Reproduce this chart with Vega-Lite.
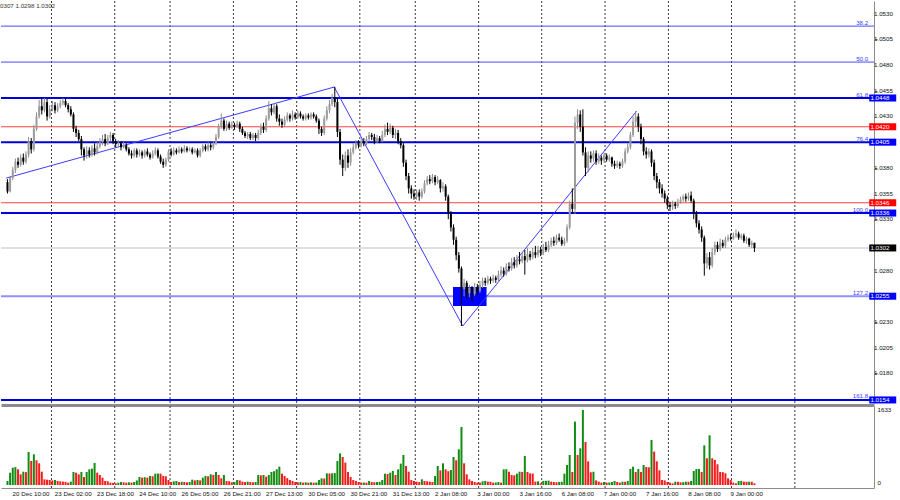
{
"$schema":"https://vega.github.io/schema/vega-lite/v6.json",
"padding":0,
"background":"#ffffff",
"config":{"view":{"stroke":null},"font":"Liberation Sans","axis":{"labelFont":"Liberation Sans","labelOverlap":false,"labelFlush":false}},
"datasets":{
"bars":[
{"i":0,"o":1.0366,"h":1.0369,"l":1.0355,"c":1.0357,"v":87},
{"i":1,"o":1.0357,"h":1.0372,"l":1.0356,"c":1.0370,"v":268},
{"i":2,"o":1.0370,"h":1.0381,"l":1.0368,"c":1.0378,"v":377},
{"i":3,"o":1.0378,"h":1.0389,"l":1.0375,"c":1.0386,"v":390},
{"i":4,"o":1.0386,"h":1.0390,"l":1.0380,"c":1.0383,"v":341},
{"i":5,"o":1.0383,"h":1.0393,"l":1.0381,"c":1.0390,"v":232},
{"i":6,"o":1.0390,"h":1.0394,"l":1.0383,"c":1.0386,"v":290},
{"i":7,"o":1.0386,"h":1.0396,"l":1.0384,"c":1.0393,"v":280},
{"i":8,"o":1.0393,"h":1.0410,"l":1.0390,"c":1.0406,"v":719},
{"i":9,"o":1.0406,"h":1.0409,"l":1.0394,"c":1.0398,"v":523},
{"i":10,"o":1.0398,"h":1.0422,"l":1.0396,"c":1.0418,"v":668},
{"i":11,"o":1.0418,"h":1.0434,"l":1.0416,"c":1.0430,"v":538},
{"i":12,"o":1.0430,"h":1.0446,"l":1.0428,"c":1.0440,"v":472},
{"i":13,"o":1.0440,"h":1.0447,"l":1.0432,"c":1.0436,"v":290},
{"i":14,"o":1.0436,"h":1.0448,"l":1.0434,"c":1.0444,"v":123},
{"i":15,"o":1.0444,"h":1.0447,"l":1.0426,"c":1.0430,"v":116},
{"i":16,"o":1.0430,"h":1.0441,"l":1.0428,"c":1.0437,"v":109},
{"i":17,"o":1.0437,"h":1.0445,"l":1.0435,"c":1.0441,"v":100},
{"i":18,"o":1.0441,"h":1.0444,"l":1.0433,"c":1.0436,"v":109},
{"i":19,"o":1.0436,"h":1.0443,"l":1.0434,"c":1.0440,"v":87},
{"i":20,"o":1.0440,"h":1.0446,"l":1.0438,"c":1.0443,"v":80},
{"i":21,"o":1.0443,"h":1.0448,"l":1.0441,"c":1.0445,"v":73},
{"i":22,"o":1.0445,"h":1.0447,"l":1.0439,"c":1.0441,"v":70},
{"i":23,"o":1.0441,"h":1.0443,"l":1.0434,"c":1.0437,"v":51},
{"i":24,"o":1.0437,"h":1.0440,"l":1.0430,"c":1.0432,"v":73},
{"i":25,"o":1.0432,"h":1.0434,"l":1.0415,"c":1.0418,"v":283},
{"i":26,"o":1.0418,"h":1.0421,"l":1.0410,"c":1.0414,"v":268},
{"i":27,"o":1.0414,"h":1.0417,"l":1.0406,"c":1.0408,"v":232},
{"i":28,"o":1.0408,"h":1.0411,"l":1.0392,"c":1.0398,"v":283},
{"i":29,"o":1.0398,"h":1.0400,"l":1.0387,"c":1.0392,"v":174},
{"i":30,"o":1.0392,"h":1.0401,"l":1.0389,"c":1.0397,"v":283},
{"i":31,"o":1.0397,"h":1.0400,"l":1.0390,"c":1.0393,"v":341},
{"i":32,"o":1.0393,"h":1.0402,"l":1.0391,"c":1.0399,"v":356},
{"i":33,"o":1.0399,"h":1.0404,"l":1.0392,"c":1.0395,"v":479},
{"i":34,"o":1.0395,"h":1.0405,"l":1.0393,"c":1.0401,"v":268},
{"i":35,"o":1.0401,"h":1.0409,"l":1.0399,"c":1.0405,"v":218},
{"i":36,"o":1.0405,"h":1.0412,"l":1.0402,"c":1.0408,"v":160},
{"i":37,"o":1.0408,"h":1.0413,"l":1.0401,"c":1.0404,"v":87},
{"i":38,"o":1.0404,"h":1.0412,"l":1.0402,"c":1.0409,"v":80},
{"i":39,"o":1.0409,"h":1.0415,"l":1.0406,"c":1.0412,"v":51},
{"i":40,"o":1.0412,"h":1.0414,"l":1.0403,"c":1.0406,"v":45},
{"i":41,"o":1.0406,"h":1.0408,"l":1.0400,"c":1.0403,"v":36},
{"i":42,"o":1.0403,"h":1.0407,"l":1.0401,"c":1.0404,"v":51},
{"i":43,"o":1.0404,"h":1.0406,"l":1.0397,"c":1.0400,"v":65},
{"i":44,"o":1.0400,"h":1.0405,"l":1.0399,"c":1.0402,"v":58},
{"i":45,"o":1.0402,"h":1.0404,"l":1.0396,"c":1.0398,"v":51},
{"i":46,"o":1.0398,"h":1.0400,"l":1.0392,"c":1.0394,"v":58},
{"i":47,"o":1.0394,"h":1.0397,"l":1.0389,"c":1.0392,"v":51},
{"i":48,"o":1.0392,"h":1.0399,"l":1.0390,"c":1.0397,"v":65},
{"i":49,"o":1.0397,"h":1.0399,"l":1.0390,"c":1.0393,"v":100},
{"i":50,"o":1.0393,"h":1.0398,"l":1.0391,"c":1.0395,"v":174},
{"i":51,"o":1.0395,"h":1.0397,"l":1.0389,"c":1.0392,"v":160},
{"i":52,"o":1.0392,"h":1.0398,"l":1.0390,"c":1.0396,"v":170},
{"i":53,"o":1.0396,"h":1.0399,"l":1.0391,"c":1.0393,"v":160},
{"i":54,"o":1.0393,"h":1.0395,"l":1.0388,"c":1.0390,"v":196},
{"i":55,"o":1.0390,"h":1.0397,"l":1.0389,"c":1.0394,"v":190},
{"i":56,"o":1.0394,"h":1.0400,"l":1.0392,"c":1.0397,"v":247},
{"i":57,"o":1.0397,"h":1.0399,"l":1.0389,"c":1.0391,"v":250},
{"i":58,"o":1.0391,"h":1.0393,"l":1.0384,"c":1.0386,"v":247},
{"i":59,"o":1.0386,"h":1.0389,"l":1.0380,"c":1.0383,"v":196},
{"i":60,"o":1.0383,"h":1.0390,"l":1.0381,"c":1.0388,"v":190},
{"i":61,"o":1.0388,"h":1.0398,"l":1.0386,"c":1.0396,"v":109},
{"i":62,"o":1.0396,"h":1.0399,"l":1.0391,"c":1.0393,"v":65},
{"i":63,"o":1.0393,"h":1.0400,"l":1.0392,"c":1.0397,"v":80},
{"i":64,"o":1.0397,"h":1.0399,"l":1.0393,"c":1.0395,"v":87},
{"i":65,"o":1.0395,"h":1.0401,"l":1.0394,"c":1.0398,"v":65},
{"i":66,"o":1.0398,"h":1.0400,"l":1.0394,"c":1.0396,"v":70},
{"i":67,"o":1.0396,"h":1.0402,"l":1.0395,"c":1.0399,"v":65},
{"i":68,"o":1.0399,"h":1.0401,"l":1.0395,"c":1.0397,"v":58},
{"i":69,"o":1.0397,"h":1.0400,"l":1.0396,"c":1.0398,"v":65},
{"i":70,"o":1.0398,"h":1.0400,"l":1.0393,"c":1.0395,"v":116},
{"i":71,"o":1.0395,"h":1.0399,"l":1.0394,"c":1.0397,"v":100},
{"i":72,"o":1.0397,"h":1.0399,"l":1.0390,"c":1.0392,"v":109},
{"i":73,"o":1.0392,"h":1.0399,"l":1.0390,"c":1.0397,"v":100},
{"i":74,"o":1.0397,"h":1.0403,"l":1.0395,"c":1.0401,"v":160},
{"i":75,"o":1.0401,"h":1.0403,"l":1.0396,"c":1.0398,"v":196},
{"i":76,"o":1.0398,"h":1.0405,"l":1.0396,"c":1.0402,"v":190},
{"i":77,"o":1.0402,"h":1.0404,"l":1.0397,"c":1.0400,"v":232},
{"i":78,"o":1.0400,"h":1.0406,"l":1.0398,"c":1.0404,"v":220},
{"i":79,"o":1.0404,"h":1.0413,"l":1.0402,"c":1.0410,"v":283},
{"i":80,"o":1.0410,"h":1.0423,"l":1.0408,"c":1.0420,"v":218},
{"i":81,"o":1.0420,"h":1.0433,"l":1.0418,"c":1.0426,"v":145},
{"i":82,"o":1.0426,"h":1.0428,"l":1.0416,"c":1.0418,"v":218},
{"i":83,"o":1.0418,"h":1.0426,"l":1.0416,"c":1.0423,"v":87},
{"i":84,"o":1.0423,"h":1.0425,"l":1.0417,"c":1.0419,"v":80},
{"i":85,"o":1.0419,"h":1.0425,"l":1.0418,"c":1.0422,"v":58},
{"i":86,"o":1.0422,"h":1.0424,"l":1.0417,"c":1.0420,"v":65},
{"i":87,"o":1.0420,"h":1.0426,"l":1.0419,"c":1.0423,"v":109},
{"i":88,"o":1.0423,"h":1.0425,"l":1.0415,"c":1.0418,"v":100},
{"i":89,"o":1.0418,"h":1.0420,"l":1.0412,"c":1.0414,"v":73},
{"i":90,"o":1.0414,"h":1.0416,"l":1.0409,"c":1.0411,"v":65},
{"i":91,"o":1.0411,"h":1.0415,"l":1.0408,"c":1.0413,"v":73},
{"i":92,"o":1.0413,"h":1.0415,"l":1.0407,"c":1.0409,"v":65},
{"i":93,"o":1.0409,"h":1.0414,"l":1.0407,"c":1.0412,"v":58},
{"i":94,"o":1.0412,"h":1.0414,"l":1.0406,"c":1.0409,"v":65},
{"i":95,"o":1.0409,"h":1.0417,"l":1.0407,"c":1.0414,"v":218},
{"i":96,"o":1.0414,"h":1.0423,"l":1.0412,"c":1.0420,"v":210},
{"i":97,"o":1.0420,"h":1.0424,"l":1.0414,"c":1.0417,"v":218},
{"i":98,"o":1.0417,"h":1.0431,"l":1.0415,"c":1.0428,"v":181},
{"i":99,"o":1.0428,"h":1.0445,"l":1.0426,"c":1.0438,"v":218},
{"i":100,"o":1.0438,"h":1.0442,"l":1.0431,"c":1.0434,"v":283},
{"i":101,"o":1.0434,"h":1.0443,"l":1.0432,"c":1.0440,"v":300},
{"i":102,"o":1.0440,"h":1.0442,"l":1.0425,"c":1.0428,"v":341},
{"i":103,"o":1.0428,"h":1.0432,"l":1.0421,"c":1.0425,"v":399},
{"i":104,"o":1.0425,"h":1.0428,"l":1.0419,"c":1.0422,"v":247},
{"i":105,"o":1.0422,"h":1.0430,"l":1.0420,"c":1.0427,"v":196},
{"i":106,"o":1.0427,"h":1.0434,"l":1.0425,"c":1.0431,"v":150},
{"i":107,"o":1.0431,"h":1.0433,"l":1.0425,"c":1.0428,"v":109},
{"i":108,"o":1.0428,"h":1.0436,"l":1.0426,"c":1.0432,"v":87},
{"i":109,"o":1.0432,"h":1.0434,"l":1.0427,"c":1.0429,"v":65},
{"i":110,"o":1.0429,"h":1.0436,"l":1.0428,"c":1.0433,"v":58},
{"i":111,"o":1.0433,"h":1.0435,"l":1.0428,"c":1.0430,"v":65},
{"i":112,"o":1.0430,"h":1.0432,"l":1.0426,"c":1.0428,"v":51},
{"i":113,"o":1.0428,"h":1.0433,"l":1.0426,"c":1.0431,"v":58},
{"i":114,"o":1.0431,"h":1.0433,"l":1.0427,"c":1.0429,"v":51},
{"i":115,"o":1.0429,"h":1.0434,"l":1.0427,"c":1.0432,"v":58},
{"i":116,"o":1.0432,"h":1.0434,"l":1.0428,"c":1.0430,"v":51},
{"i":117,"o":1.0430,"h":1.0432,"l":1.0424,"c":1.0426,"v":55},
{"i":118,"o":1.0426,"h":1.0428,"l":1.0413,"c":1.0418,"v":109},
{"i":119,"o":1.0418,"h":1.0420,"l":1.0411,"c":1.0414,"v":145},
{"i":120,"o":1.0414,"h":1.0431,"l":1.0412,"c":1.0428,"v":140},
{"i":121,"o":1.0428,"h":1.0440,"l":1.0426,"c":1.0436,"v":254},
{"i":122,"o":1.0436,"h":1.0446,"l":1.0433,"c":1.0442,"v":250},
{"i":123,"o":1.0442,"h":1.0452,"l":1.0440,"c":1.0448,"v":254},
{"i":124,"o":1.0448,"h":1.0459,"l":1.0439,"c":1.0444,"v":260},
{"i":125,"o":1.0444,"h":1.0448,"l":1.0410,"c":1.0415,"v":523},
{"i":126,"o":1.0415,"h":1.0418,"l":1.0383,"c":1.0388,"v":690},
{"i":127,"o":1.0388,"h":1.0393,"l":1.0372,"c":1.0380,"v":610},
{"i":128,"o":1.0380,"h":1.0396,"l":1.0377,"c":1.0392,"v":487},
{"i":129,"o":1.0392,"h":1.0398,"l":1.0380,"c":1.0385,"v":283},
{"i":130,"o":1.0385,"h":1.0399,"l":1.0382,"c":1.0395,"v":174},
{"i":131,"o":1.0395,"h":1.0404,"l":1.0393,"c":1.0400,"v":109},
{"i":132,"o":1.0400,"h":1.0407,"l":1.0398,"c":1.0404,"v":87},
{"i":133,"o":1.0404,"h":1.0407,"l":1.0399,"c":1.0402,"v":65},
{"i":134,"o":1.0402,"h":1.0408,"l":1.0400,"c":1.0406,"v":51},
{"i":135,"o":1.0406,"h":1.0409,"l":1.0401,"c":1.0404,"v":55},
{"i":136,"o":1.0404,"h":1.0411,"l":1.0402,"c":1.0408,"v":51},
{"i":137,"o":1.0408,"h":1.0415,"l":1.0406,"c":1.0412,"v":87},
{"i":138,"o":1.0412,"h":1.0414,"l":1.0407,"c":1.0410,"v":65},
{"i":139,"o":1.0410,"h":1.0413,"l":1.0403,"c":1.0406,"v":60},
{"i":140,"o":1.0406,"h":1.0412,"l":1.0404,"c":1.0409,"v":65},
{"i":141,"o":1.0409,"h":1.0411,"l":1.0404,"c":1.0406,"v":70},
{"i":142,"o":1.0406,"h":1.0416,"l":1.0405,"c":1.0412,"v":109},
{"i":143,"o":1.0412,"h":1.0422,"l":1.0410,"c":1.0418,"v":247},
{"i":144,"o":1.0418,"h":1.0424,"l":1.0412,"c":1.0415,"v":240},
{"i":145,"o":1.0415,"h":1.0423,"l":1.0413,"c":1.0419,"v":268},
{"i":146,"o":1.0419,"h":1.0421,"l":1.0409,"c":1.0412,"v":305},
{"i":147,"o":1.0412,"h":1.0418,"l":1.0408,"c":1.0414,"v":218},
{"i":148,"o":1.0414,"h":1.0417,"l":1.0403,"c":1.0406,"v":341},
{"i":149,"o":1.0406,"h":1.0409,"l":1.0399,"c":1.0402,"v":465},
{"i":150,"o":1.0402,"h":1.0404,"l":1.0381,"c":1.0385,"v":654},
{"i":151,"o":1.0385,"h":1.0388,"l":1.0368,"c":1.0372,"v":414},
{"i":152,"o":1.0372,"h":1.0375,"l":1.0355,"c":1.0360,"v":290},
{"i":153,"o":1.0360,"h":1.0363,"l":1.0350,"c":1.0355,"v":109},
{"i":154,"o":1.0355,"h":1.0359,"l":1.0349,"c":1.0352,"v":87},
{"i":155,"o":1.0352,"h":1.0359,"l":1.0349,"c":1.0356,"v":73},
{"i":156,"o":1.0356,"h":1.0359,"l":1.0348,"c":1.0352,"v":65},
{"i":157,"o":1.0352,"h":1.0360,"l":1.0350,"c":1.0357,"v":123},
{"i":158,"o":1.0357,"h":1.0368,"l":1.0355,"c":1.0365,"v":87},
{"i":159,"o":1.0365,"h":1.0372,"l":1.0363,"c":1.0369,"v":80},
{"i":160,"o":1.0369,"h":1.0373,"l":1.0364,"c":1.0367,"v":73},
{"i":161,"o":1.0367,"h":1.0374,"l":1.0365,"c":1.0371,"v":65},
{"i":162,"o":1.0371,"h":1.0373,"l":1.0363,"c":1.0366,"v":196},
{"i":163,"o":1.0366,"h":1.0372,"l":1.0364,"c":1.0368,"v":414},
{"i":164,"o":1.0368,"h":1.0369,"l":1.0356,"c":1.0360,"v":319},
{"i":165,"o":1.0360,"h":1.0366,"l":1.0357,"c":1.0362,"v":472},
{"i":166,"o":1.0362,"h":1.0364,"l":1.0348,"c":1.0352,"v":341},
{"i":167,"o":1.0352,"h":1.0354,"l":1.0330,"c":1.0335,"v":300},
{"i":168,"o":1.0335,"h":1.0338,"l":1.0318,"c":1.0322,"v":327},
{"i":169,"o":1.0322,"h":1.0325,"l":1.0305,"c":1.0310,"v":610},
{"i":170,"o":1.0310,"h":1.0313,"l":1.0290,"c":1.0295,"v":538},
{"i":171,"o":1.0295,"h":1.0298,"l":1.0278,"c":1.0282,"v":777},
{"i":172,"o":1.0282,"h":1.0284,"l":1.0226,"c":1.0262,"v":1264},
{"i":173,"o":1.0262,"h":1.0272,"l":1.0255,"c":1.0268,"v":472},
{"i":174,"o":1.0268,"h":1.0270,"l":1.0252,"c":1.0258,"v":232},
{"i":175,"o":1.0258,"h":1.0266,"l":1.0254,"c":1.0263,"v":123},
{"i":176,"o":1.0263,"h":1.0265,"l":1.0250,"c":1.0257,"v":87},
{"i":177,"o":1.0257,"h":1.0268,"l":1.0255,"c":1.0264,"v":65},
{"i":178,"o":1.0264,"h":1.0267,"l":1.0256,"c":1.0260,"v":51},
{"i":179,"o":1.0260,"h":1.0270,"l":1.0258,"c":1.0266,"v":51},
{"i":180,"o":1.0266,"h":1.0273,"l":1.0263,"c":1.0270,"v":80},
{"i":181,"o":1.0270,"h":1.0273,"l":1.0265,"c":1.0268,"v":87},
{"i":182,"o":1.0268,"h":1.0275,"l":1.0266,"c":1.0272,"v":73},
{"i":183,"o":1.0272,"h":1.0274,"l":1.0267,"c":1.0270,"v":70},
{"i":184,"o":1.0270,"h":1.0276,"l":1.0268,"c":1.0273,"v":51},
{"i":185,"o":1.0273,"h":1.0275,"l":1.0268,"c":1.0271,"v":55},
{"i":186,"o":1.0271,"h":1.0280,"l":1.0269,"c":1.0276,"v":65},
{"i":187,"o":1.0276,"h":1.0284,"l":1.0274,"c":1.0280,"v":51},
{"i":188,"o":1.0280,"h":1.0283,"l":1.0274,"c":1.0277,"v":341},
{"i":189,"o":1.0277,"h":1.0287,"l":1.0275,"c":1.0284,"v":345},
{"i":190,"o":1.0284,"h":1.0288,"l":1.0279,"c":1.0282,"v":290},
{"i":191,"o":1.0282,"h":1.0292,"l":1.0280,"c":1.0288,"v":218},
{"i":192,"o":1.0288,"h":1.0293,"l":1.0282,"c":1.0285,"v":210},
{"i":193,"o":1.0285,"h":1.0295,"l":1.0283,"c":1.0291,"v":247},
{"i":194,"o":1.0291,"h":1.0298,"l":1.0286,"c":1.0289,"v":290},
{"i":195,"o":1.0289,"h":1.0297,"l":1.0287,"c":1.0294,"v":285},
{"i":196,"o":1.0294,"h":1.0300,"l":1.0276,"c":1.0290,"v":632},
{"i":197,"o":1.0290,"h":1.0302,"l":1.0288,"c":1.0296,"v":283},
{"i":198,"o":1.0296,"h":1.0299,"l":1.0290,"c":1.0293,"v":254},
{"i":199,"o":1.0293,"h":1.0302,"l":1.0291,"c":1.0298,"v":250},
{"i":200,"o":1.0298,"h":1.0304,"l":1.0292,"c":1.0295,"v":73},
{"i":201,"o":1.0295,"h":1.0304,"l":1.0293,"c":1.0300,"v":80},
{"i":202,"o":1.0300,"h":1.0303,"l":1.0294,"c":1.0297,"v":36},
{"i":203,"o":1.0297,"h":1.0306,"l":1.0295,"c":1.0303,"v":87},
{"i":204,"o":1.0303,"h":1.0308,"l":1.0298,"c":1.0300,"v":90},
{"i":205,"o":1.0300,"h":1.0309,"l":1.0298,"c":1.0305,"v":95},
{"i":206,"o":1.0305,"h":1.0312,"l":1.0303,"c":1.0309,"v":73},
{"i":207,"o":1.0309,"h":1.0313,"l":1.0304,"c":1.0307,"v":65},
{"i":208,"o":1.0307,"h":1.0315,"l":1.0305,"c":1.0312,"v":60},
{"i":209,"o":1.0312,"h":1.0316,"l":1.0308,"c":1.0310,"v":65},
{"i":210,"o":1.0310,"h":1.0313,"l":1.0304,"c":1.0306,"v":70},
{"i":211,"o":1.0306,"h":1.0312,"l":1.0304,"c":1.0309,"v":247},
{"i":212,"o":1.0309,"h":1.0325,"l":1.0307,"c":1.0322,"v":436},
{"i":213,"o":1.0322,"h":1.0348,"l":1.0320,"c":1.0345,"v":654},
{"i":214,"o":1.0345,"h":1.0360,"l":1.0336,"c":1.0340,"v":283},
{"i":215,"o":1.0340,"h":1.0430,"l":1.0335,"c":1.0424,"v":1381},
{"i":216,"o":1.0424,"h":1.0437,"l":1.0418,"c":1.0432,"v":654},
{"i":217,"o":1.0432,"h":1.0436,"l":1.0415,"c":1.0420,"v":799},
{"i":218,"o":1.0420,"h":1.0437,"l":1.0392,"c":1.0395,"v":1633},
{"i":219,"o":1.0395,"h":1.0400,"l":1.0372,"c":1.0380,"v":937},
{"i":220,"o":1.0380,"h":1.0396,"l":1.0376,"c":1.0392,"v":516},
{"i":221,"o":1.0392,"h":1.0396,"l":1.0385,"c":1.0389,"v":276},
{"i":222,"o":1.0389,"h":1.0397,"l":1.0386,"c":1.0394,"v":290},
{"i":223,"o":1.0394,"h":1.0397,"l":1.0383,"c":1.0386,"v":100},
{"i":224,"o":1.0386,"h":1.0394,"l":1.0384,"c":1.0390,"v":73},
{"i":225,"o":1.0390,"h":1.0392,"l":1.0383,"c":1.0387,"v":51},
{"i":226,"o":1.0387,"h":1.0395,"l":1.0385,"c":1.0392,"v":65},
{"i":227,"o":1.0392,"h":1.0394,"l":1.0386,"c":1.0388,"v":51},
{"i":228,"o":1.0388,"h":1.0393,"l":1.0386,"c":1.0390,"v":55},
{"i":229,"o":1.0390,"h":1.0391,"l":1.0381,"c":1.0384,"v":65},
{"i":230,"o":1.0384,"h":1.0387,"l":1.0379,"c":1.0382,"v":87},
{"i":231,"o":1.0382,"h":1.0387,"l":1.0380,"c":1.0384,"v":65},
{"i":232,"o":1.0384,"h":1.0386,"l":1.0379,"c":1.0382,"v":51},
{"i":233,"o":1.0382,"h":1.0389,"l":1.0380,"c":1.0386,"v":73},
{"i":234,"o":1.0386,"h":1.0399,"l":1.0384,"c":1.0396,"v":70},
{"i":235,"o":1.0396,"h":1.0404,"l":1.0394,"c":1.0400,"v":87},
{"i":236,"o":1.0400,"h":1.0415,"l":1.0398,"c":1.0412,"v":348},
{"i":237,"o":1.0412,"h":1.0430,"l":1.0410,"c":1.0425,"v":399},
{"i":238,"o":1.0425,"h":1.0435,"l":1.0420,"c":1.0430,"v":283},
{"i":239,"o":1.0430,"h":1.0433,"l":1.0415,"c":1.0420,"v":348},
{"i":240,"o":1.0420,"h":1.0423,"l":1.0403,"c":1.0408,"v":283},
{"i":241,"o":1.0408,"h":1.0410,"l":1.0392,"c":1.0396,"v":436},
{"i":242,"o":1.0396,"h":1.0400,"l":1.0389,"c":1.0393,"v":392},
{"i":243,"o":1.0393,"h":1.0399,"l":1.0390,"c":1.0396,"v":385},
{"i":244,"o":1.0396,"h":1.0398,"l":1.0381,"c":1.0385,"v":981},
{"i":245,"o":1.0385,"h":1.0388,"l":1.0368,"c":1.0372,"v":727},
{"i":246,"o":1.0372,"h":1.0375,"l":1.0360,"c":1.0366,"v":516},
{"i":247,"o":1.0366,"h":1.0369,"l":1.0355,"c":1.0360,"v":319},
{"i":248,"o":1.0360,"h":1.0364,"l":1.0351,"c":1.0355,"v":109},
{"i":249,"o":1.0355,"h":1.0358,"l":1.0346,"c":1.0350,"v":100},
{"i":250,"o":1.0350,"h":1.0353,"l":1.0340,"c":1.0344,"v":65},
{"i":251,"o":1.0344,"h":1.0347,"l":1.0338,"c":1.0342,"v":51},
{"i":252,"o":1.0342,"h":1.0348,"l":1.0339,"c":1.0345,"v":36},
{"i":253,"o":1.0345,"h":1.0347,"l":1.0340,"c":1.0343,"v":73},
{"i":254,"o":1.0343,"h":1.0350,"l":1.0341,"c":1.0347,"v":70},
{"i":255,"o":1.0347,"h":1.0352,"l":1.0345,"c":1.0349,"v":58},
{"i":256,"o":1.0349,"h":1.0354,"l":1.0347,"c":1.0352,"v":62},
{"i":257,"o":1.0352,"h":1.0355,"l":1.0347,"c":1.0350,"v":73},
{"i":258,"o":1.0350,"h":1.0356,"l":1.0348,"c":1.0353,"v":70},
{"i":259,"o":1.0353,"h":1.0357,"l":1.0346,"c":1.0348,"v":87},
{"i":260,"o":1.0348,"h":1.0350,"l":1.0330,"c":1.0335,"v":305},
{"i":261,"o":1.0335,"h":1.0338,"l":1.0322,"c":1.0326,"v":348},
{"i":262,"o":1.0326,"h":1.0329,"l":1.0316,"c":1.0320,"v":350},
{"i":263,"o":1.0320,"h":1.0323,"l":1.0308,"c":1.0312,"v":283},
{"i":264,"o":1.0312,"h":1.0314,"l":1.0275,"c":1.0287,"v":864},
{"i":265,"o":1.0287,"h":1.0297,"l":1.0282,"c":1.0293,"v":581},
{"i":266,"o":1.0293,"h":1.0298,"l":1.0281,"c":1.0285,"v":1083},
{"i":267,"o":1.0285,"h":1.0302,"l":1.0283,"c":1.0298,"v":581},
{"i":268,"o":1.0298,"h":1.0308,"l":1.0295,"c":1.0305,"v":545},
{"i":269,"o":1.0305,"h":1.0308,"l":1.0298,"c":1.0301,"v":450},
{"i":270,"o":1.0301,"h":1.0311,"l":1.0299,"c":1.0307,"v":283},
{"i":271,"o":1.0307,"h":1.0310,"l":1.0302,"c":1.0304,"v":280},
{"i":272,"o":1.0304,"h":1.0313,"l":1.0302,"c":1.0310,"v":254},
{"i":273,"o":1.0310,"h":1.0315,"l":1.0308,"c":1.0312,"v":145},
{"i":274,"o":1.0312,"h":1.0316,"l":1.0309,"c":1.0311,"v":109},
{"i":275,"o":1.0311,"h":1.0317,"l":1.0310,"c":1.0314,"v":51},
{"i":276,"o":1.0314,"h":1.0320,"l":1.0312,"c":1.0316,"v":36},
{"i":277,"o":1.0316,"h":1.0318,"l":1.0310,"c":1.0312,"v":87},
{"i":278,"o":1.0312,"h":1.0316,"l":1.0310,"c":1.0314,"v":90},
{"i":279,"o":1.0314,"h":1.0316,"l":1.0307,"c":1.0309,"v":73},
{"i":280,"o":1.0309,"h":1.0313,"l":1.0306,"c":1.0311,"v":70},
{"i":281,"o":1.0311,"h":1.0312,"l":1.0303,"c":1.0305,"v":73},
{"i":282,"o":1.0305,"h":1.0309,"l":1.0302,"c":1.0307,"v":70},
{"i":283,"o":1.0307,"h":1.0307,"l":1.0298,"c":1.0302,"v":36}
],
"levels":[
{"p":1.0518,"kind":"fibthin","fib":"38.2"},
{"p":1.0483,"kind":"fibthin","fib":"50.0"},
{"p":1.0448,"kind":"fib","fib":"61.8","box":"1.0448"},
{"p":1.0420,"kind":"red","box":"1.0420"},
{"p":1.0405,"kind":"fib","fib":"76.4","box":"1.0405"},
{"p":1.0346,"kind":"red","box":"1.0346"},
{"p":1.0336,"kind":"fib","fib":"100.0","box":"1.0336"},
{"p":1.0302,"kind":"cur","box":"1.0302"},
{"p":1.0255,"kind":"fiblight","fib":"127.2","box":"1.0255"},
{"p":1.0154,"kind":"fib","fib":"161.8","box":"1.0154"}
],
"ticksY":[{"p":1.053},{"p":1.0505},{"p":1.048},{"p":1.0455},{"p":1.043},{"p":1.038},{"p":1.0355},{"p":1.033},{"p":1.028},{"p":1.023},{"p":1.0205},{"p":1.018}],
"zigzag":[
{"i":-0.5,"p":1.0370},
{"i":123.8,"p":1.04587},
{"i":172.5,"p":1.0226},
{"i":238.4,"p":1.04354}
],
"zone":[{"i0":168.8,"i1":181.5,"p0":1.0264,"p1":1.02455}],
"grid":[{"g":16.67},{"g":40.64},{"g":61.6},{"g":85.6},{"g":109.55},{"g":133.5},{"g":154.5},{"g":178.5},{"g":202.4},{"g":226.4},{"g":250.4},{"g":274.3},{"g":298.3}]
},
"spacing":3,
"bounds":"flush",
"vconcat":[
{
"width":873,"height":402,
"title":{"text":"0307 1.0298 1.0302","anchor":"start","offset":-9,"fontSize":6.2,"fontWeight":"normal","color":"#333333","font":"Liberation Sans"},
"resolve":{"scale":{"color":"independent"}},
"layer":[
{"data":{"name":"grid"},"mark":{"type":"rule","strokeDash":[2,2],"color":"#3a3a3a","strokeWidth":1},
 "encoding":{"x":{"field":"g","type":"quantitative","scale":{"domain":[-0.56,326.4],"nice":false,"zero":false},
   "axis":{"orient":"bottom","labels":false,"ticks":false,"grid":false,"domain":true,"domainColor":"#8c8c8c","domainWidth":3,"offset":2,"title":null}}}},
{"data":{"name":"levels"},"transform":[{"filter":"datum.kind == 'fibthin'"}],"mark":{"type":"rule","color":"#4a4aff","strokeWidth":1},
 "encoding":{"y":{"field":"p","type":"quantitative","scale":{"domain":[1.015103,1.054246],"nice":false,"zero":false},
   "axis":{"orient":"right","values":[1.053,1.0505,1.048,1.0455,1.043,1.038,1.0355,1.033,1.028,1.023,1.0205,1.018],"labels":false,"tickSize":3,"tickColor":"#666666","domainColor":"#8c8c8c","grid":false,"title":null}}}},
{"data":{"name":"levels"},"transform":[{"filter":"datum.kind == 'fib'"}],"mark":{"type":"rule","color":"#0000d8","strokeWidth":2},
 "encoding":{"y":{"field":"p","type":"quantitative","scale":{"domain":[1.015103,1.054246],"nice":false,"zero":false}}}},
{"data":{"name":"levels"},"transform":[{"filter":"datum.kind == 'fiblight'"}],"mark":{"type":"rule","color":"#9090ff","strokeWidth":2},
 "encoding":{"y":{"field":"p","type":"quantitative","scale":{"domain":[1.015103,1.054246],"nice":false,"zero":false}}}},
{"data":{"name":"levels"},"transform":[{"filter":"datum.kind == 'red'"}],"mark":{"type":"rule","color":"#ff4040","strokeWidth":1},
 "encoding":{"y":{"field":"p","type":"quantitative","scale":{"domain":[1.015103,1.054246],"nice":false,"zero":false}}}},
{"data":{"name":"levels"},"transform":[{"filter":"datum.kind == 'cur'"}],"mark":{"type":"rule","color":"#d4d4d4","strokeWidth":1.5},
 "encoding":{"y":{"field":"p","type":"quantitative","scale":{"domain":[1.015103,1.054246],"nice":false,"zero":false}}}},
{"data":{"name":"zone"},"mark":{"type":"rect","color":"#0000ff"},
 "encoding":{"x":{"field":"i0","type":"quantitative","scale":{"domain":[-0.56,326.4],"nice":false,"zero":false}},"x2":{"field":"i1"},
  "y":{"field":"p0","type":"quantitative","scale":{"domain":[1.015103,1.054246],"nice":false,"zero":false}},"y2":{"field":"p1"}}},
{"data":{"name":"zigzag"},"mark":{"type":"line","color":"#3c3cff","strokeWidth":1},
 "encoding":{"x":{"field":"i","type":"quantitative","scale":{"domain":[-0.56,326.4],"nice":false,"zero":false}},
  "y":{"field":"p","type":"quantitative","scale":{"domain":[1.015103,1.054246],"nice":false,"zero":false}},"order":{"field":"i"}}},
{"data":{"name":"bars"},"mark":{"type":"rule","strokeWidth":1},
 "encoding":{"x":{"field":"i","type":"quantitative","scale":{"domain":[-0.56,326.4],"nice":false,"zero":false}},
  "y":{"field":"l","type":"quantitative","scale":{"domain":[1.015103,1.054246],"nice":false,"zero":false}},"y2":{"field":"h"},
  "color":{"condition":{"test":"datum.c >= datum.o","value":"#8a8a8a"},"value":"#000000"}}},
{"data":{"name":"bars"},"mark":{"type":"bar","width":2},
 "encoding":{"x":{"field":"i","type":"quantitative","scale":{"domain":[-0.56,326.4],"nice":false,"zero":false}},
  "y":{"field":"o","type":"quantitative","scale":{"domain":[1.015103,1.054246],"nice":false,"zero":false}},"y2":{"field":"c"},
  "color":{"condition":{"test":"datum.c >= datum.o","value":"#9c9c9c"},"value":"#000000"}}},
{"data":{"name":"ticksY"},
 "mark":{"type":"text","align":"left","baseline":"middle","fontSize":6.2,"color":"#111111","font":"Liberation Sans"},
 "encoding":{"x":{"datum":328.3,"type":"quantitative"},"y":{"field":"p","type":"quantitative"},"text":{"field":"p","type":"quantitative","format":".4f"}}},
{"data":{"name":"levels"},"transform":[{"filter":"datum.fib != null"}],
 "mark":{"type":"text","align":"right","baseline":"bottom","dy":-0.5,"fontSize":6.2,"color":"#3c3cff","font":"Liberation Sans"},
 "encoding":{"x":{"datum":326.1,"type":"quantitative"},"y":{"field":"p","type":"quantitative"},"text":{"field":"fib"}}},
{"data":{"name":"levels"},"transform":[{"filter":"datum.box != null"}],
 "mark":{"type":"point","shape":"M-1,-0.26H1V0.26H-1Z","size":729,"filled":true,"opacity":1,"strokeWidth":0},
 "encoding":{"x":{"datum":331.6,"type":"quantitative"},"y":{"field":"p","type":"quantitative"},
  "color":{"field":"kind","type":"nominal","scale":{"domain":["fib","fiblight","red","cur"],"range":["#0000ff","#0000ff","#ff0000","#000000"]},"legend":null}}},
{"data":{"name":"levels"},"transform":[{"filter":"datum.box != null"}],
 "mark":{"type":"text","align":"left","baseline":"middle","fontSize":6.2,"color":"#ffffff","font":"Liberation Sans"},
 "encoding":{"x":{"datum":326.95,"type":"quantitative"},"y":{"field":"p","type":"quantitative"},"text":{"field":"box"}}}
]
},
{
"width":873,"height":82,
"layer":[
{"data":{"name":"grid"},"mark":{"type":"rule","strokeDash":[2,2],"color":"#3a3a3a","strokeWidth":1},
 "encoding":{"x":{"field":"g","type":"quantitative","scale":{"domain":[-0.56,326.4],"nice":false,"zero":false},
  "axis":{"orient":"bottom","values":[1,17,33,49,65,81,97,113,129,145,161,177,193,209,225,241,257,273],
   "labelExpr":"['20 Dec 10:00','23 Dec 02:00','23 Dec 18:00','24 Dec 10:00','26 Dec 05:00','26 Dec 21:00','27 Dec 13:00','30 Dec 05:00','30 Dec 21:00','31 Dec 13:00','2 Jan 08:00','3 Jan 00:00','3 Jan 16:00','6 Jan 08:00','7 Jan 00:00','7 Jan 16:00','8 Jan 08:00','9 Jan 00:00'][floor((datum.value-1)/16)]",
   "labelAlign":"left","labelOffset":2,"labelPadding":2,"ticks":false,"labelFontSize":6.2,"labelColor":"#111111","labelOverlap":false,"labelFlush":false,"domainColor":"#8c8c8c","grid":false,"title":null}}}},
{"data":{"name":"bars"},
 "transform":[{"window":[{"op":"lag","field":"v","as":"pv"}],"sort":[{"field":"i"}]}],
 "mark":{"type":"bar","width":2},
 "encoding":{"x":{"field":"i","type":"quantitative","scale":{"domain":[-0.56,326.4],"nice":false,"zero":false}},
  "y":{"field":"v","type":"quantitative","scale":{"domain":[-65.3,1720],"nice":false,"zero":false},
   "axis":{"orient":"right","values":[1633,0],"format":"d","ticks":false,"labelPadding":3,"labelFontSize":6.2,"labelColor":"#111111","labelOverlap":false,"labelFlush":false,
    "labelBaseline":{"condition":{"test":"datum.value == 0","value":"bottom"},"value":"middle"},"domainColor":"#8c8c8c","grid":false,"title":null}},
  "color":{"condition":{"test":"datum.pv == null || datum.v > datum.pv","value":"#128c12"},"value":"#f51c1c"}}}
]
}
]
}
